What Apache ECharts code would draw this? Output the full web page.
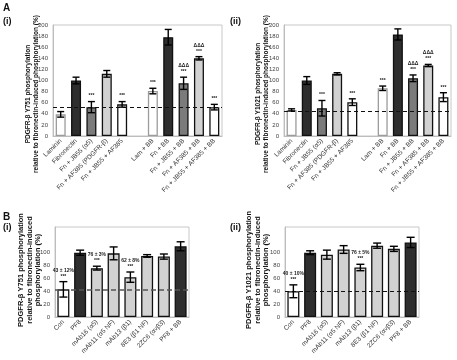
<!DOCTYPE html>
<html><head><meta charset="utf-8">
<script src="https://cdn.jsdelivr.net/npm/echarts@6/dist/echarts.min.js"></script>
<style>html,body{margin:0;padding:0;background:#fff}#c{width:457px;height:360px}</style>
</head><body><div id="c"></div>
<script>
// ---------- DATA ----------
const catsA = ['Laminin','Fibronectin','Fn + JB55 (\u03b15)','Fn + AF385 (PDGFR-\u03b2)','Fn + JB55 + AF385','','Lam + BB','Fn + BB','Fn + JB55 + BB','Fn + AF385 + BB','Fn + JB55 + AF385 + BB'];
const a1Values = [39,100,52,112,57,null,81,178,95,140,52];
const a1Errors = [5,6,10,6,5,null,5,14,11,3,5];
const a1Baseline = 52;
const a2Values = [47,100,50,112,61,null,86,183,104,127,70];
const a2Errors = [2,7,14,2,6,null,4,10,6,2,8];
const a2Baseline = 44;
const aStars  = ['','','***','','***','','***','','***','***','***'];
const aDeltas = ['','','','','','','','','\u0394\u0394\u0394','\u0394\u0394\u0394',''];
const aTicks = [0,20,40,60,80,100,120,140,160,180,200];

const catsB = ['Con','PF8','mAb16 (\u03b15)','mAb11 (\u03b15 NF)','mAb13 (\u03b21)','8E3 (\u03b21 NF)','2ZC6 (\u03b1v\u03b23)','PF8 + BB'];
const b1Values = [43,100,76,99,62,95,94,110];
const b1Errors = [12,4,3,10,8,2,4,7];
const b1Notes  = ['43 \u00b1 12%','','76 \u00b1 3%','','62 \u00b1 8%','','',''];
const b1Stars  = ['***','','***','','***','','',''];
const b1Baseline = 43;
const b2Values = [40,100,97,105,77,111,106,116];
const b2Errors = [10,3,7,6,5,4,4,8];
const b2Notes  = ['40 \u00b1 10%','','','','76 \u00b1 5%','','',''];
const b2Stars  = ['***','','','','***','','',''];
const b2Baseline = 40;
const bTicks = [0,20,40,60,80,100];

// ---------- STYLES ----------
const DARK='#2e2e2e', MID='#7b7b7b', LIGHT='#d2d2d2', WHITE='#ffffff';
const aFill   = [WHITE,DARK,MID,LIGHT,WHITE,WHITE,WHITE,DARK,MID,LIGHT,WHITE];
const aBorder = ['#9c9c9c','#111','#111','#111','#111','#111','#9c9c9c','#111','#111','#111','#111'];
const bFill   = [WHITE,DARK,LIGHT,LIGHT,LIGHT,LIGHT,LIGHT,DARK];
const bBorder = ['#111','#111','#111','#111','#111','#111','#111','#111'];

const FONT = 'Liberation Sans, Arial, sans-serif';

function grid(left, top, width, height){
  return {left, top, width, height, show:true, borderColor:'#c8c8c8', borderWidth:1, containLabel:false};
}
function xAx(idx, cats){
  return {type:'category', gridIndex:idx, data:cats,
    axisLine:{lineStyle:{color:'#bdbdbd'}}, axisTick:{show:false},
    axisLabel:{interval:0, rotate:45, fontSize:6.5, color:'#333', fontFamily:FONT, margin:4}};
}
function yAx(idx, max, showMax){
  return {type:'value', gridIndex:idx, min:0, max:max, interval:20,
    axisLine:{show:true, lineStyle:{color:'#bdbdbd'}}, axisTick:{show:false},
    splitLine:{show:false},
    axisLabel:{fontSize:6, color:'#444', fontFamily:FONT, margin:5,
      formatter:v=> v<=showMax ? String(v) : ''}};
}
function barSeries(idx, values, fills, borders, bw, base, baseStyle){
  return {type:'bar', xAxisIndex:idx, yAxisIndex:idx, barWidth:bw, z:2,
    data: values.map((v,i)=>({value: v==null?'-':v,
      itemStyle:{color:fills[i], borderColor:borders[i], borderWidth:1.3}})),
    markLine:{silent:true, symbol:'none', label:{show:false},
      lineStyle:baseStyle, data:[{yAxis:base}]}};
}
function errSeries(idx, values, errors, cap, upper, upper2, fs1, fs2){
  const data=[];
  values.forEach((v,i)=>{ if(v!=null) data.push([i,v,errors[i]]); });
  return {type:'custom', xAxisIndex:idx, yAxisIndex:idx, z:5,
    encode:{x:0,y:1},
    data,
    renderItem(params, api){
      const i=api.value(0), v=api.value(1), e=api.value(2);
      const t=api.coord([i,v+e]), b=api.coord([i,v-e]);
      const x=t[0];
      const st={stroke:'#000', lineWidth:1.4};
      const ch=[
        {type:'line', shape:{x1:x,y1:t[1],x2:x,y2:b[1]}, style:st},
        {type:'line', shape:{x1:x-cap,y1:t[1],x2:x+cap,y2:t[1]}, style:st},
        {type:'line', shape:{x1:x-cap,y1:b[1],x2:x+cap,y2:b[1]}, style:st}
      ];
      let y=t[1]-3;
      if(upper[i]){
        ch.push({type:'text', x:x, y:y, style:{text:upper[i], fill:'#222',
          font:'bold '+fs1+'px '+FONT, align:'center', verticalAlign:'bottom'}});
        y-=fs1+1;
      }
      if(upper2 && upper2[i]){
        ch.push({type:'text', x:x, y:y, style:{text:upper2[i], fill:'#222',
          font:'bold '+fs2+'px '+FONT, align:'center', verticalAlign:'bottom'}});
      }
      return {type:'group', children:ch};
    }};
}
function vtext(x, y, text, size){
  return {type:'text', x:x, y:y, rotation:Math.PI/2,
    style:{text:text, fill:'#111', font:'bold '+size+'px '+FONT, align:'center', verticalAlign:'middle'}};
}
function label(x, y, text, size){
  return {type:'text', x:x, y:y, style:{text:text, fill:'#111', font:'bold '+size+'px '+FONT, align:'left', verticalAlign:'top'}};
}

const dashA = {type:[4,3], color:'#111', width:1};
const dashB1 = {type:[5,3], color:'#555', width:1.6};
const dashB2 = {type:[4,3], color:'#111', width:1};

const chart = echarts.init(document.getElementById('c'), null, {renderer:'canvas'});
chart.setOption({
  animation:false,
  backgroundColor:'#fff',
  grid:[grid(53,25,169,111), grid(284,25,167,111), grid(55,227,134,90), grid(285,227,134,90)],
  xAxis:[xAx(0,catsA), xAx(1,catsA), xAx(2,catsB), xAx(3,catsB)],
  yAxis:[yAx(0,200,200), yAx(1,200,200), yAx(2,140,100), yAx(3,140,100)],
  series:[
    barSeries(0,a1Values,aFill,aBorder,10,a1Baseline,dashA),
    errSeries(0,a1Values,a1Errors,3.5,aStars,aDeltas,5,5),
    barSeries(1,a2Values,aFill,aBorder,10,a2Baseline,dashA),
    errSeries(1,a2Values,a2Errors,3.5,aStars,aDeltas,5,5),
    barSeries(2,b1Values,bFill,bBorder,12,b1Baseline,dashB1),
    errSeries(2,b1Values,b1Errors,4,b1Stars,b1Notes,5,5),
    barSeries(3,b2Values,bFill,bBorder,12,b2Baseline,dashB2),
    errSeries(3,b2Values,b2Errors,4,b2Stars,b2Notes,5,5)
  ],
  graphic:[
    label(3,3,'A',10), label(3,17,'(i)',9), label(230,17,'(ii)',9),
    label(3,212,'B',10), label(3,223,'(i)',9), label(230,223,'(ii)',9),
    vtext(28,94,'PDGFR-\u03b2 Y751 phosphorylation',6.5),
    vtext(36,94,'relative to fibronectin-induced phosphorylation (%)',6.5),
    vtext(258,94,'PDGFR-\u03b2 Y1021 phosphorylation',6.5),
    vtext(266,94,'relative to fibronectin-induced phosphorylation (%)',6.5),
    vtext(21,270,'PDGFR-\u03b2 Y751 phosphorylation',7.5),
    vtext(29.5,270,'relative to fibronectin-induced',7.5),
    vtext(38,270,'phosphorylation (%)',7.5),
    vtext(249,270,'PDGFR-\u03b2 Y1021 phosphorylation',7.5),
    vtext(257.5,270,'relative to fibronectin-induced',7.5),
    vtext(266,270,'phosphorylation (%)',7.5)
  ]
});
</script></body></html>
